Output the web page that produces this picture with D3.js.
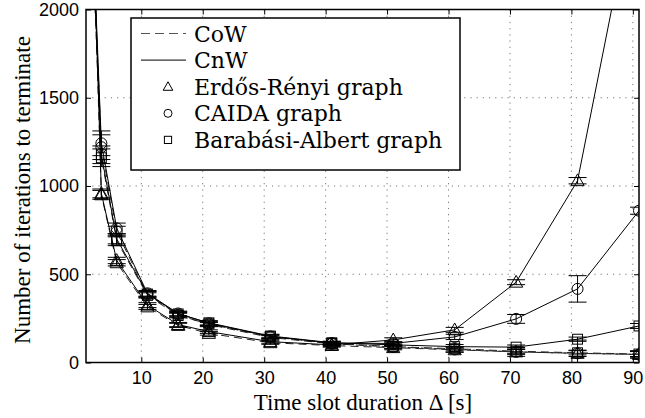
<!DOCTYPE html>
<html>
<head>
<meta charset="utf-8">
<script src="https://cdn.jsdelivr.net/npm/d3@7"></script>
</head>
<body style="margin:0;background:#fff">
<div id="main"></div>
<script>
// time slot durations (s); first point lies above the visible range
var slots = [1, 3.5, 6, 11, 16, 21, 31, 41, 51, 61, 71, 81, 91];

// Erdős-Rényi
var erCoW = [3700, 950, 565, 315, 210, 165, 112, 96, 84, 72, 60, 52, 46];
var erCnW = [3900, 958, 578, 325, 215, 175, 118, 100, 128, 185, 455, 1030, 2780];
var erErr = [0, 25, 18, 14, 12, 10, 9, 9, 12, 14, 14, 18, 20];
// CAIDA
var caidaCoW = [3300, 1220, 742, 385, 270, 215, 142, 106, 88, 74, 60, 52, 45];
var caidaCnW = [3400, 1242, 760, 392, 278, 222, 148, 110, 108, 145, 247, 417, 860];
var caidaErr = [0, 70, 30, 16, 13, 12, 10, 9, 10, 15, 25, 75, 20];
// Barabási-Albert
var baCoW = [3200, 1160, 690, 380, 266, 218, 146, 108, 90, 78, 64, 55, 48];
var baCnW = [3350, 1177, 700, 388, 275, 225, 150, 112, 100, 90, 87, 132, 207];
var baErr = [0, 50, 28, 15, 13, 12, 10, 9, 10, 12, 12, 12, 14];

var xTicks = [10, 20, 30, 40, 50, 60, 70, 80, 90];
var yTicks = [0, 500, 1000, 1500, 2000];

var legendRows = ["CoW", "CnW", "Erdős-Rényi graph", "CAIDA graph", "Barabási-Albert graph"];

var ctx = {
    w: 645,
    h: 418,
    left: 86, right: 639, top: 9.5, bottom: 362.5,
};

var series = [
    {vals: erCoW, err: erErr, mark: "tri", dash: true},
    {vals: caidaCoW, err: caidaErr, mark: "circ", dash: true},
    {vals: baCoW, err: baErr, mark: "sq", dash: true},
    {vals: erCnW, err: erErr, mark: "tri", dash: false},
    {vals: caidaCnW, err: caidaErr, mark: "circ", dash: false},
    {vals: baCnW, err: baErr, mark: "sq", dash: false},
];

var drawMarker = function(g, type, x, y, s){
    if (type == "tri"){
        g.append("path")
         .attr("d", `M${x},${y-s*0.62}L${x+s*0.6},${y+s*0.45}L${x-s*0.6},${y+s*0.45}Z`)
         .attr("fill", "none").attr("stroke", "#000").attr("stroke-width", 1);
    } else if (type == "circ"){
        g.append("circle").attr("cx", x).attr("cy", y).attr("r", s*0.5)
         .attr("fill", "none").attr("stroke", "#000").attr("stroke-width", 1);
    } else {
        g.append("rect").attr("x", x-s*0.45).attr("y", y-s*0.45)
         .attr("width", s*0.9).attr("height", s*0.9)
         .attr("fill", "none").attr("stroke", "#000").attr("stroke-width", 1);
    }
};

var createViz = function(){
    var svg = d3.select("#main").append("svg")
                .attr("width", ctx.w).attr("height", ctx.h)
                .style("font-family", "Liberation Serif");

    ctx.xScale = d3.scaleLinear().domain([1, 91]).range([ctx.left, ctx.right]);
    ctx.yScale = d3.scaleLinear().domain([0, 2000]).range([ctx.bottom, ctx.top]);

    svg.append("clipPath").attr("id", "plotClip")
       .append("rect").attr("x", ctx.left).attr("y", ctx.top)
       .attr("width", ctx.right-ctx.left).attr("height", ctx.bottom-ctx.top);

    // dotted grid
    var grid = svg.append("g");
    xTicks.forEach(function(t){
        grid.append("line")
            .attr("x1", ctx.xScale(t)).attr("x2", ctx.xScale(t))
            .attr("y1", ctx.top).attr("y2", ctx.bottom)
            .attr("stroke", "#777").attr("stroke-dasharray", "1.2,5");
    });
    yTicks.slice(1, -1).forEach(function(t){
        grid.append("line")
            .attr("x1", ctx.left).attr("x2", ctx.right)
            .attr("y1", ctx.yScale(t)).attr("y2", ctx.yScale(t))
            .attr("stroke", "#777").attr("stroke-dasharray", "1.2,5");
    });

    // axes, ticks pointing inward
    var fmt = d3.format("d");
    var axes = [
        svg.append("g").attr("transform", `translate(0,${ctx.bottom})`)
           .call(d3.axisBottom(ctx.xScale).tickValues(xTicks).tickSize(-5).tickPadding(9).tickFormat(fmt)),
        svg.append("g").attr("transform", `translate(0,${ctx.top})`)
           .call(d3.axisTop(ctx.xScale).tickValues(xTicks).tickSize(-5).tickFormat("")),
        svg.append("g").attr("transform", `translate(${ctx.left},0)`)
           .call(d3.axisLeft(ctx.yScale).tickValues(yTicks).tickSize(-5).tickPadding(7).tickFormat(fmt)),
        svg.append("g").attr("transform", `translate(${ctx.right},0)`)
           .call(d3.axisRight(ctx.yScale).tickValues(yTicks).tickSize(-5).tickFormat(""))
    ];
    axes.forEach(function(a){
        a.attr("font-family", null).attr("font-size", null)
         .style("font-family", "Liberation Sans").style("font-size", "18px");
    });
    svg.selectAll(".domain").remove();
    svg.selectAll(".tick line").attr("stroke", "#000");
    svg.selectAll(".tick text").attr("fill", "#000");

    // data
    var plot = svg.append("g").attr("clip-path", "url(#plotClip)");
    var line = d3.line().x((d, i) => ctx.xScale(slots[i])).y(d => ctx.yScale(d));
    series.forEach(function(s){
        plot.append("path").datum(s.vals)
            .attr("d", line)
            .attr("fill", "none")
            .attr("stroke", s.dash ? "#222" : "#000")
            .attr("stroke-width", 1)
            .attr("stroke-dasharray", s.dash ? "8,5" : null);
        s.vals.forEach(function(v, i){
            var px = ctx.xScale(slots[i]);
            var e = s.err[i];
            if (e > 0){
                var y1 = ctx.yScale(v+e), y2 = ctx.yScale(v-e);
                plot.append("line").attr("x1", px).attr("x2", px).attr("y1", y1).attr("y2", y2)
                    .attr("stroke", "#000");
                [y1, y2].forEach(function(yy){
                    plot.append("line").attr("x1", px-9).attr("x2", px+9).attr("y1", yy).attr("y2", yy)
                        .attr("stroke", "#000");
                });
            }
            drawMarker(plot, s.mark, px, ctx.yScale(v), 11);
        });
    });

    // frame
    svg.append("rect").attr("x", ctx.left).attr("y", ctx.top)
       .attr("width", ctx.right-ctx.left).attr("height", ctx.bottom-ctx.top)
       .attr("fill", "none").attr("stroke", "#000").attr("stroke-width", 1.5);

    // legend
    var leg = svg.append("g").style("font-family", "DejaVu Serif").style("font-size", "22px");
    leg.append("rect").attr("x", 131).attr("y", 18).attr("width", 329).attr("height", 152)
       .attr("fill", "#fff").attr("stroke", "#000").attr("stroke-width", 1.5);
    legendRows.forEach(function(lb, i){
        var cy = 33.5 + i*26.6;
        if (i == 0){
            leg.append("line").attr("x1", 141).attr("x2", 186).attr("y1", cy).attr("y2", cy)
               .attr("stroke", "#555").attr("stroke-dasharray", "9,5");
        } else if (i == 1){
            leg.append("line").attr("x1", 141).attr("x2", 186).attr("y1", cy).attr("y2", cy)
               .attr("stroke", "#000");
        } else {
            drawMarker(leg, ["tri", "circ", "sq"][i-2], 168, cy, 8);
        }
        leg.append("text").attr("fill", "#000")
           .attr("x", 194).attr("y", cy + 8).text(lb);
    });

    // axis labels
    svg.append("text")
       .style("font-size", "23px").attr("text-anchor", "middle")
       .attr("x", 363).attr("y", 410)
       .text("Time slot duration Δ [s]");
    svg.append("text")
       .style("font-size", "23px").attr("text-anchor", "middle")
       .attr("transform", "translate(30,190) rotate(-90)")
       .text("Number of iterations to terminate");
};

createViz();
</script>
</body>
</html>
